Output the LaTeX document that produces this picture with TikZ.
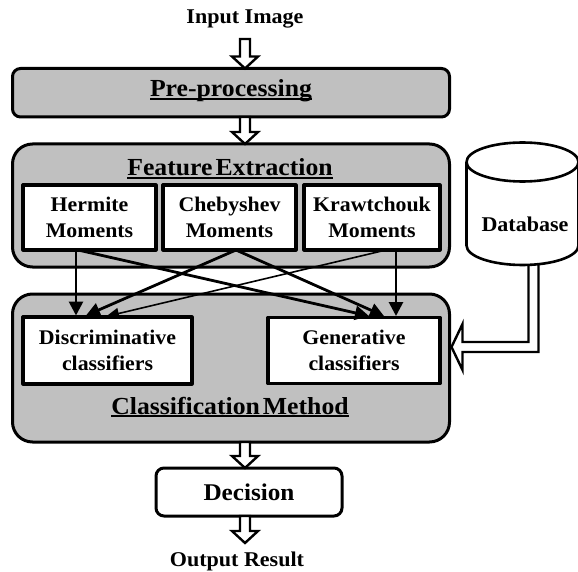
\documentclass[tikz,border=0pt]{standalone}
\usepackage{fontspec}
\setmainfont{Liberation Serif}[FakeStretch=1.05]
\usetikzlibrary{arrows.meta,calc}
\definecolor{boxgray}{RGB}{192,192,192}
\newsavebox\ulbox
\newcommand{\myul}[1]{\sbox\ulbox{#1}\rlap{\rule[-3.4pt]{\wd\ulbox}{2pt}}\usebox\ulbox}
\newcommand{\hdown}[2]{\draw[hollow] let \p1=(#1), \p2=(#2) in
  (\x1-5pt,\y1) -- (\x1-5pt,\y2+12pt) -- (\x1-13pt,\y2+12pt) -- (\x1,\y2)
  -- (\x1+13pt,\y2+12pt) -- (\x1+5pt,\y2+12pt) -- (\x1+5pt,\y1) -- cycle;}
\tikzset{
  graybox/.style={draw, line width=3pt, fill=boxgray, rounded corners=#1, outer sep=0pt, inner sep=0pt},
  whitebox/.style={draw, line width=3.2pt, fill=white, outer sep=0pt, inner sep=0pt, align=center,
    font=\fontsize{20.8}{26}\selectfont\bfseries},
  conn/.style={line width=2.8pt, -{Triangle[length=14pt,width=14pt]}},
  thinconn/.style={line width=1.6pt, -{Triangle[length=13pt,width=11pt]}},
  hollow/.style={draw, fill=white, line width=2.4pt, line join=miter},
  ttl/.style={anchor=base, inner sep=0pt, font=\fontsize{21}{24}\selectfont\bfseries},
  bigttl/.style={anchor=base, inner sep=0pt, font=\fontsize{24.5}{28}\selectfont\bfseries},
}
\begin{document}
\begin{tikzpicture}[x=1pt, y=-1pt, line join=round]
\useasboundingbox (0,0) rectangle (578,572);
\fill[white] (0,0) rectangle (578,572);

% main boxes
\node[graybox=8pt, minimum width=437pt, minimum height=48.5pt] (pre) at (231,92.75) {};
\node[graybox=20pt, minimum width=437pt, minimum height=123pt] (fe) at (231,205.5) {};
\node[graybox=20pt, minimum width=437pt, minimum height=148pt] (cm) at (231,368) {};

% titles
\node[ttl] (inimg) at (245,24) {Input Image};
\node[bigttl] (prettl) at (231,97) {\myul{Pre-processing}};
\node[bigttl] (fettl) at (230,176) {\myul{Feature\hspace{3pt}Extraction}};
\node[bigttl] (cmttl) at (230,414) {\myul{Classification\hspace{3pt}Method}};
\node[ttl] (outres) at (237,566.7) {Output Result};

% moment boxes
\node[whitebox, minimum width=133pt, minimum height=65pt] (herm) at (89.5,217.5) {Hermite\\Moments};
\node[whitebox, minimum width=133pt, minimum height=65pt] (cheb) at (229.5,217.5) {Chebyshev\\Moments};
\node[whitebox, minimum width=136pt, minimum height=65pt] (kraw) at (372,217.5) {Krawtchouk\\Moments};

% classifier boxes
\node[whitebox, minimum width=169pt, minimum height=67pt] (disc) at (107.5,350.5) {Discriminative\\classifiers};
\node[whitebox, minimum width=172pt, minimum height=66pt] (gen) at (354,350.5) {Generative\\classifiers};

% decision
\node[draw, line width=3pt, fill=white, rounded corners=8pt, outer sep=0pt, inner sep=0pt,
  minimum width=186pt, minimum height=48pt, font=\fontsize{24}{26}\selectfont\bfseries] (dec) at (249,492) {Decision};

% connectors
\draw[conn] ([xshift=-13.5pt]herm.south) -- ([xshift=-31.5pt,yshift=1.5pt]disc.north);
\draw[conn] ([xshift=-11.5pt]herm.south) -- ([xshift=15pt,yshift=1.5pt]gen.north);
\draw[conn] ([xshift=6.5pt]cheb.south) -- ([xshift=-21.5pt,yshift=1.5pt]disc.north);
\draw[conn] ([xshift=6.5pt]cheb.south) -- ([xshift=30pt,yshift=1.5pt]gen.north);
\draw[conn] ([xshift=24pt]kraw.south) -- ([xshift=42pt,yshift=1.5pt]gen.north);
\draw[thinconn] ([xshift=14pt]kraw.south) -- ([xshift=-1.5pt,yshift=0.5pt]disc.north);

% hollow flow arrows
\coordinate (a1s) at (245,39);
\coordinate (outtip) at (245,543);
\hdown{a1s}{pre.north -| inimg}
\hdown{pre.south -| inimg}{fe.north -| inimg}
\hdown{cm.south -| inimg}{dec.north -| inimg}
\hdown{dec.south -| inimg}{outtip}

% database arrow
\coordinate (dbtip) at (451.5,347);
\draw[hollow] (538.5,255) -- (538.5,352) -- (462.5,352) -- (462.5,370) -- (dbtip)
  -- (462.5,324) -- (462.5,342) -- (528.5,342) -- (528.5,255);

% database cylinder
\fill[white] (466.5,162) rectangle (578.5,245.5);
\fill[white] (522.5,245.5) ellipse [x radius=56, y radius=19.5];
\draw[line width=2.6pt] (466.5,162) -- (466.5,245.5) arc[start angle=180, end angle=0, x radius=56, y radius=19.5] -- (578.5,162);
\draw[line width=2.6pt, fill=white] (522.5,162) ellipse [x radius=56, y radius=19.5];
\node[ttl] (dbttl) at (525,231.7) {Database};
\end{tikzpicture}
\end{document}
